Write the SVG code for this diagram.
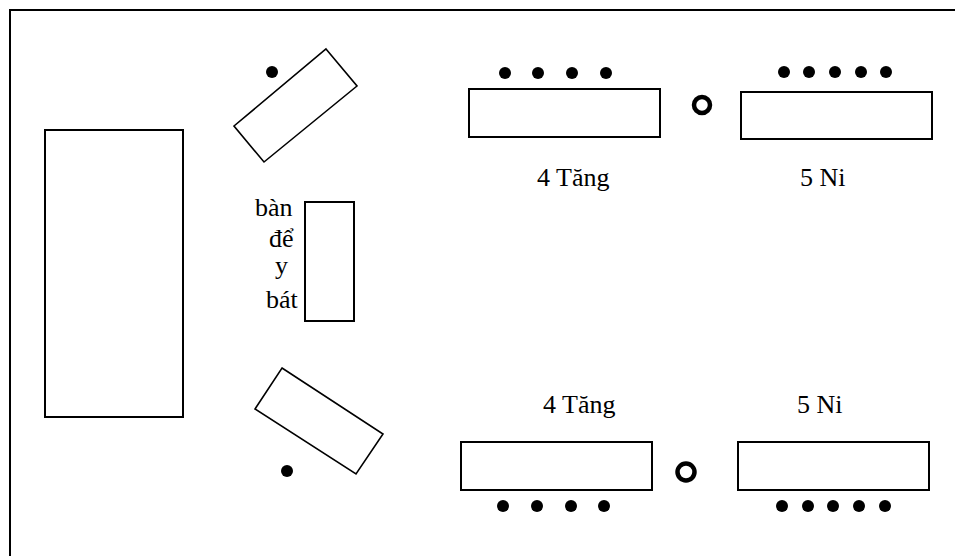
<svg xmlns="http://www.w3.org/2000/svg" width="955" height="556" viewBox="0 0 955 556">
<style>
.box{fill:#fff;stroke:#000;stroke-width:2}
.tilt{fill:#fff;stroke:#000;stroke-width:1.6}
.dot{fill:#000}
.ring{fill:none;stroke:#000;stroke-width:4.5}
.lbl{font-family:"Liberation Serif","Times New Roman",serif;font-size:26px;fill:#000}
</style>
<rect width="955" height="556" fill="#fff"/>
<g id="frame"><path d="M10,556 V10 H955" fill="none" stroke="#000" stroke-width="2"/></g>
<g id="altar"><rect class="box" x="45" y="130" width="138" height="287"/></g>
<g id="table-top"><polygon class="tilt" points="326,49 357,86 264,162 234,126"/><circle class="dot" cx="272" cy="72" r="6"/></g>
<g id="table-bottom"><polygon class="tilt" points="282,368 383,434 356,474 255,409"/><circle class="dot" cx="287" cy="471" r="6"/></g>
<g id="bowl-table"><rect class="box" x="305" y="202" width="49" height="119"/>
<text class="lbl" x="255" y="216">bàn</text>
<text class="lbl" x="269" y="247">để</text>
<text class="lbl" x="275" y="274">y</text>
<text class="lbl" x="266" y="308">bát</text></g>
<g id="row-top-left"><rect class="box" x="469" y="89" width="191" height="48"/>
<circle class="dot" cx="505" cy="73" r="6"/><circle class="dot" cx="538" cy="73" r="6"/><circle class="dot" cx="572" cy="73" r="6"/><circle class="dot" cx="606" cy="73" r="6"/>
<text class="lbl" x="537" y="186">4 Tăng</text></g>
<g id="ring-top"><circle class="ring" cx="702" cy="105" r="8"/></g>
<g id="row-top-right"><rect class="box" x="741" y="92" width="191" height="47"/>
<circle class="dot" cx="784" cy="72" r="6"/><circle class="dot" cx="809" cy="72" r="6"/><circle class="dot" cx="835" cy="72" r="6"/><circle class="dot" cx="861" cy="72" r="6"/><circle class="dot" cx="886" cy="72" r="6"/>
<text class="lbl" x="800" y="186">5 Ni</text></g>
<g id="row-bottom-left"><rect class="box" x="461" y="442" width="191" height="48"/>
<circle class="dot" cx="503" cy="506" r="6"/><circle class="dot" cx="537" cy="506" r="6"/><circle class="dot" cx="571" cy="506" r="6"/><circle class="dot" cx="604" cy="506" r="6"/>
<text class="lbl" x="543" y="413">4 Tăng</text></g>
<g id="ring-bottom"><circle class="ring" cx="686" cy="472" r="8.5"/></g>
<g id="row-bottom-right"><rect class="box" x="738" y="442" width="191" height="48"/>
<circle class="dot" cx="782" cy="506" r="6"/><circle class="dot" cx="808" cy="506" r="6"/><circle class="dot" cx="833" cy="506" r="6"/><circle class="dot" cx="859" cy="506" r="6"/><circle class="dot" cx="885" cy="506" r="6"/>
<text class="lbl" x="797" y="413">5 Ni</text></g>
</svg>
